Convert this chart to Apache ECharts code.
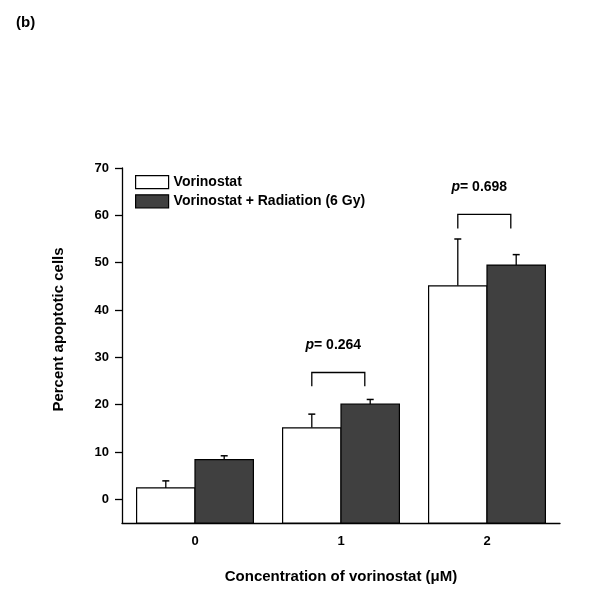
<!DOCTYPE html>
<html><head><meta charset="utf-8">
<script src="https://cdn.jsdelivr.net/npm/echarts@6/dist/echarts.min.js"></script>
<style>html,body{margin:0;padding:0;background:#fff}#c{width:589px;height:599px}</style>
</head><body><div id="c"></div>
<script>
// ---- data ----
const categories = ['0', '1', '2'];
const seriesNames = ['Vorinostat', 'Vorinostat + Radiation (6 Gy)'];
const vorinostat = [2.4, 15.1, 45.1];
const vorinostatErr = [1.5, 2.9, 9.9];
const combined = [8.4, 20.1, 49.5];
const combinedErr = [0.8, 1.0, 2.2];
const yTicks = [0, 10, 20, 30, 40, 50, 60, 70];
const pValues = [null, '0.264', '0.698'];
const bracketTop = [null, 26.8, 60.2];
const bracketBottom = [null, 23.9, 57.2];

// ---- layout constants ----
const Y_MIN = -5, Y_MAX = 70;
const BAR_FRAC = 0.4;
const FONT = '"Liberation Sans", Arial, Helvetica, sans-serif';

function barRenderer(offset, fill) {
  return function (params, api) {
    const cat = api.value(0), v = api.value(1), e = api.value(2);
    const band = api.size([1, 0])[0];
    const xc = api.coord([cat, 0])[0] + offset * band;
    const w = BAR_FRAC * band;
    const top = api.coord([cat, v])[1];
    const base = api.coord([cat, Y_MIN])[1];
    const errTop = api.coord([cat, v + e])[1];
    return {
      type: 'group',
      children: [
        { type: 'line', shape: { x1: xc, y1: top, x2: xc, y2: errTop }, style: { stroke: '#000', lineWidth: 1.3 } },
        { type: 'line', shape: { x1: xc - 3.5, y1: errTop, x2: xc + 3.5, y2: errTop }, style: { stroke: '#000', lineWidth: 1.5 } },
        { type: 'rect', shape: { x: xc - w / 2, y: top, width: w, height: base - top },
          style: { fill: fill, stroke: '#000', lineWidth: 1.2 } }
      ]
    };
  };
}

function bracketRenderer(params, api) {
  const cat = api.value(0);
  const top = api.value(1), bottom = api.value(2);
  const band = api.size([1, 0])[0];
  const cx = api.coord([cat, 0])[0];
  const xl = cx - 0.2 * band, xr = cx + 0.163 * band;
  const yt = api.coord([cat, top])[1], yb = api.coord([cat, bottom])[1];
  return {
    type: 'group',
    children: [
      { type: 'polyline', shape: { points: [[xl, yb], [xl, yt], [xr, yt], [xr, yb]] },
        style: { stroke: '#000', lineWidth: 1.3, fill: null } },
      { type: 'text', style: {
          x: (xl + xr) / 2 - 5, y: yt - 27,
          text: '{i|p}{b|= ' + pValues[cat] + '}',
          align: 'center', verticalAlign: 'middle',
          rich: {
            i: { fontStyle: 'italic', fontWeight: 'bold', fontSize: 14, fontFamily: FONT, fill: '#000' },
            b: { fontWeight: 'bold', fontSize: 14, fontFamily: FONT, fill: '#000' }
          }
        } }
    ]
  };
}

const bracketData = [];
pValues.forEach((p, i) => { if (p !== null) bracketData.push([i, bracketTop[i], bracketBottom[i]]); });

const chart = echarts.init(document.getElementById('c'), null, { renderer: 'canvas' });
chart.setOption({
  animation: false,
  backgroundColor: '#fff',
  title: { text: '(b)', left: 11, top: 10,
    textStyle: { fontWeight: 'bold', fontSize: 15, color: '#000', fontFamily: FONT } },
  legend: {
    orient: 'vertical', left: 130, top: 170, itemWidth: 33, itemHeight: 13, itemGap: 5,
    icon: 'rect', selectedMode: false,
    data: [
      { name: seriesNames[0], itemStyle: { color: '#fff', borderColor: '#000', borderWidth: 1.2 } },
      { name: seriesNames[1], itemStyle: { color: '#404040', borderColor: '#000', borderWidth: 1.2 } }
    ],
    textStyle: { fontWeight: 'bold', fontSize: 14, color: '#000', fontFamily: FONT }
  },
  grid: { left: 122, right: 29, top: 168, bottom: 76, containLabel: false },
  xAxis: {
    type: 'category', data: categories, boundaryGap: true,
    axisLine: { onZero: false, lineStyle: { color: '#000', width: 1.3 } },
    axisTick: { show: false },
    axisLabel: { margin: 12, fontWeight: 'bold', fontSize: 13, color: '#000', fontFamily: FONT },
    name: 'Concentration of vorinostat (\u03bcM)', nameLocation: 'middle', nameGap: 46,
    nameTextStyle: { fontWeight: 'bold', fontSize: 15, color: '#000', fontFamily: FONT },
    splitLine: { show: false }
  },
  yAxis: {
    type: 'value', min: Y_MIN, max: Y_MAX,
    axisLine: { show: true, lineStyle: { color: '#000', width: 1.3 } },
    axisTick: { show: true, length: 7, customValues: yTicks, lineStyle: { color: '#000', width: 1.3 } },
    axisLabel: { customValues: yTicks, margin: 13, fontWeight: 'bold', fontSize: 13, color: '#000', fontFamily: FONT },
    splitLine: { show: false },
    name: 'Percent apoptotic cells', nameLocation: 'middle', nameGap: 56, nameRotate: 90,
    nameTextStyle: { fontWeight: 'bold', fontSize: 15, color: '#000', fontFamily: FONT, padding: [0, 0, 0, 32] }
  },
  series: [
    { name: seriesNames[0], type: 'custom', renderItem: barRenderer(-0.2, '#fff'),
      itemStyle: { color: '#fff', borderColor: '#000' },
      encode: { x: 0, y: 1 },
      data: vorinostat.map((v, i) => [i, v, vorinostatErr[i]]) },
    { name: seriesNames[1], type: 'custom', renderItem: barRenderer(0.2, '#404040'),
      itemStyle: { color: '#404040', borderColor: '#000' },
      encode: { x: 0, y: 1 },
      data: combined.map((v, i) => [i, v, combinedErr[i]]) },
    { name: 'p', type: 'custom', renderItem: bracketRenderer, encode: { x: 0, y: 1 },
      data: bracketData, silent: true }
  ]
});
</script>
</body></html>
